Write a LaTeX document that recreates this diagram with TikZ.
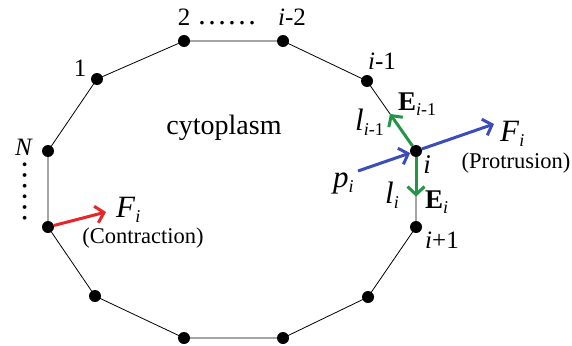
\documentclass[tikz,border=0pt]{standalone}
\usepackage{fontspec}
\setmainfont{LiberationSerif}[Extension=.ttf, UprightFont=*-Regular, ItalicFont=*-Italic, BoldFont=*-Bold, BoldItalicFont=*-BoldItalic]
\usetikzlibrary{arrows.meta,calc}
\newcommand\sbx[1]{\raisebox{-5pt}{\fontsize{18}{18}\selectfont #1}}
\definecolor{fred}{RGB}{232,38,42}
\definecolor{fgreen}{RGB}{34,150,70}
\definecolor{fblue}{RGB}{60,76,184}
\begin{document}
\begin{tikzpicture}[x=1pt,y=-1pt,
  vtx/.style={circle,fill=black,inner sep=0pt,minimum size=12pt},
  edgeline/.style={line width=0.8pt},
  force/.style={line width=3pt,-{Straight Barb[length=8pt,width=17pt]}},
  lab/.style={inner sep=0pt,font=\fontsize{25}{30}\selectfont},
  biglab/.style={inner sep=0pt,font=\fontsize{31}{36}\selectfont},
  elab/.style={inner sep=0pt,font=\fontsize{27}{31}\selectfont},
  smalllab/.style={inner sep=0pt,font=\fontsize{22.5}{26}\selectfont}]
\useasboundingbox (0,0) rectangle (572,345);
% vertices
\node[vtx] (v2)   at (184,41) {};
\node[vtx] (vim2) at (283,41) {};
\node[vtx] (vim1) at (367,81) {};
\node[vtx] (vi)   at (416,151) {};
\node[vtx] (vip1) at (416,227) {};
\node[vtx] (vb1)  at (368,297) {};
\node[vtx] (vb2)  at (283,338) {};
\node[vtx] (vb3)  at (184,338) {};
\node[vtx] (vb4)  at (95,296) {};
\node[vtx] (vb5)  at (48,227) {};
\node[vtx] (vN)   at (48,151) {};
\node[vtx] (v1)   at (97,79) {};
\draw[edgeline] (v2.center) -- (vim2.center) -- (vim1.center) -- (vi.center) -- (vip1.center) -- (vb1.center) -- (vb2.center) -- (vb3.center) -- (vb4.center) -- (vb5.center) -- (vN.center) -- (v1.center) -- cycle;
% force coordinates
\coordinate (ea) at ($(vi.center)!0.53!(vim1.center)$);
\coordinate (eb) at ($(vi.center)!0.6!(vip1.center)$);
\coordinate (fp) at (494,124);
\coordinate (ps) at (358,171);
\coordinate (fc) at (106,212);
\draw[force,fgreen] (vi) -- (ea);
\draw[force,fgreen] (vi) -- (eb);
\draw[force,fblue] (vi) -- (fp);
\draw[force,fblue] (ps) -- (vi);
\draw[force,fred] (vb5) -- (fc);
% labels
\node[lab,anchor=base] (t2) at (184,26) {2};
\node[inner sep=0pt,font=\fontsize{30}{36}\selectfont] (tdots) at (227,23) {……};
\node[lab,anchor=base] (tim2) at (292,26) {\textit{i}-2};
\node[lab,anchor=base] (t1) at (80,76) {1};
\node[lab,anchor=base] (tN) at (24,155) {\textit{N}};
\node[inner sep=0pt,font=\fontsize{32}{36}\selectfont,rotate=90] (tvdots) at (25,191.5) {……};
\node[lab,anchor=base] (tim1) at (382,70) {\textit{i}-1};
\node[inner sep=0pt,font=\fontsize{28}{32}\selectfont,anchor=base] (tcyto) at (224,134) {cytoplasm};
\node[elab,anchor=base west] (tEim1) at (398,110) {\textbf{E}\sbx{\textit{i}-1}};
\node[biglab,anchor=base west] (tlim1) at (355,130) {\textit{l}\sbx{\textit{i}-1}};
\node[biglab,anchor=base west] (tFp) at (500,141) {\textit{F}\sbx{\textit{i}}};
\node[smalllab,anchor=base] (tprot) at (516,168.5) {(Protrusion)};
\node[elab,anchor=base] (ti) at (427,173) {\textit{i}};
\node[biglab,anchor=base west] (tp) at (333,187) {\textit{p}\sbx{\textit{i}}};
\node[biglab,anchor=base west] (tli) at (385,203) {\textit{l}\sbx{\textit{i}}};
\node[elab,anchor=base west] (tEi) at (425,208) {\textbf{E}\sbx{\textit{i}}};
\node[lab,anchor=base] (tip1) at (442,248) {\textit{i}+1};
\node[biglab,anchor=base west] (tFc) at (116,217) {\textit{F}\sbx{\textit{i}}};
\node[smalllab,anchor=base] (tcon) at (143,243) {(Contraction)};
\end{tikzpicture}
\end{document}
